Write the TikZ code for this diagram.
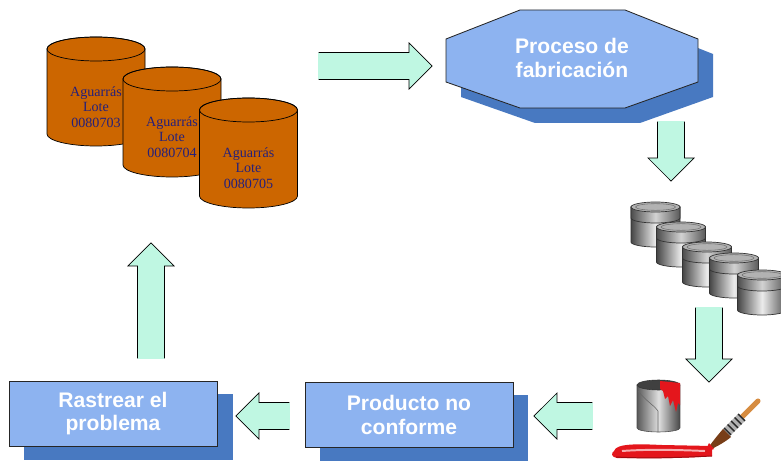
\documentclass[tikz,border=0pt]{standalone}
\usepackage{fontspec}
\setmainfont{Liberation Serif}
\newfontfamily\arial{Liberation Sans}
\usepackage{tikz}
\usetikzlibrary{shapes.arrows}

\definecolor{azulclaro}{RGB}{141,179,240}
\definecolor{azuloscuro}{RGB}{72,121,193}
\definecolor{menta}{RGB}{191,247,226}
\definecolor{naranja}{RGB}{204,102,0}
\definecolor{tinta}{RGB}{38,32,122}
\definecolor{rojo}{RGB}{228,22,28}
\definecolor{rojooscuro}{RGB}{160,10,15}
\definecolor{mango}{RGB}{214,140,64}
\definecolor{cerda}{RGB}{120,62,24}

\newcommand{\bidon}[3]{%
  \filldraw[fill=naranja, draw=black, line width=0.5pt]
    (#1-49,#2) -- (#1-49,#3) arc[start angle=180, end angle=360, x radius=49, y radius=12]
    -- (#1+49,#2) arc[start angle=0, end angle=180, x radius=49, y radius=12] -- cycle;
  \draw[line width=0.5pt] (#1,#2) ellipse[x radius=49, y radius=12];
}
\newcommand{\lata}[2]{%
  \shadedraw[left color=gray!55!black, right color=gray!65!black, middle color=gray!15, draw=black!80, line width=0.5pt]
    (#1-24.5,#2) -- (#1-24.5,#2-35) arc[start angle=180, end angle=360, x radius=24.5, y radius=5] -- (#1+24.5,#2) -- cycle;
  \shadedraw[left color=gray!60!black, right color=gray!70!black, middle color=gray!35, draw=black!80, line width=0.5pt]
    (#1-24.5,#2) -- (#1-24.5,#2-11) arc[start angle=180, end angle=360, x radius=24.5, y radius=5] -- (#1+24.5,#2) -- cycle;
  \filldraw[fill=gray!60, draw=black!80, line width=0.5pt] (#1,#2) ellipse[x radius=24.5, y radius=5];
  \draw[black!55] (#1,#2) ellipse[x radius=20, y radius=3.3];
}

\begin{document}
\begin{tikzpicture}[
  x=0.025cm, y=0.025cm,
  caja/.style={draw=black!85, line width=0.6pt, fill=azulclaro, minimum width=5.2cm, minimum height=1.625cm, inner sep=0pt},
  sombra/.style={fill=azuloscuro, minimum width=5.2cm, minimum height=1.625cm, inner sep=0pt},
  titulo/.style={align=center, text=white, font=\arial\bfseries\fontsize{15}{17}\selectfont},
  lote/.style={align=center, text=tinta, font=\fontsize{10}{11}\selectfont},
  flecha/.style={single arrow, fill=menta, draw=black, line width=0.5pt, single arrow head extend=0.235cm,
    inner xsep=0pt, inner ysep=0.33cm, outer sep=0pt, anchor=tail},
  cola/.style={menta, line width=1.2pt, shorten >=0.45pt, shorten <=0.45pt}
]
  \useasboundingbox (0,0) rectangle (781,461);
  \clip (0,0) rectangle (781,461);

  % lotes
  \bidon{96}{412}{327}
  \node[lote] (lote703) at (96,354) {Aguarrás\\Lote\\0080703};
  \bidon{172}{382}{296}
  \node[lote] (lote704) at (172,324) {Aguarrás\\Lote\\0080704};
  \bidon{248.5}{351}{265}
  \node[lote] (lote705) at (248.5,293) {Aguarrás\\Lote\\0080705};

  % proceso
  \fill[azuloscuro] (535,436) -- (640,436) -- (713,407) -- (713,364) -- (640,338) -- (535,338) -- (461,364) -- (461,407) -- cycle;
  \filldraw[fill=azulclaro, draw=black!85, line width=0.6pt]
    (520,451) -- (625,451) -- (698,422) -- (698,379) -- (625,353) -- (520,353) -- (446,379) -- (446,422) -- cycle;
  \node[titulo] (fab) at (572,403) {Proceso de\\fabricación};

  % producto terminado
  \lata{655.5}{254}
  \lata{681}{234}
  \lata{707}{214}
  \lata{734}{203}
  \lata{762}{186}

  % pintura
  \fill[rojo] (614,10) .. controls (616,18) and (640,17) .. (662,16) -- (712,15) -- (712,5)
    .. controls (680,2) and (640,3) .. (617,3) .. controls (611,4) and (611,8) .. (614,10);
  \draw[rojooscuro, line width=0.7pt] (616,4) .. controls (650,2) and (690,4) .. (712,5);
  \draw[white!65!rojo, line width=1.4pt] (622,10) .. controls (650,12) and (680,11) .. (705,10);
  \shadedraw[left color=gray!70!black, right color=gray!55!black, middle color=gray!25, draw=black!70, line width=0.4pt]
    (637,76) -- (637,33) arc[start angle=180, end angle=360, x radius=21.5, y radius=4] -- (680,76) -- cycle;
  \filldraw[fill=gray!50!black, draw=black!80, line width=0.4pt] (658.5,76) ellipse[x radius=21.5, y radius=5];
  \fill[rojo] (660,80) -- (680,78) -- (680,56) -- (678,58) -- (676,49) -- (673,61) -- (670,55) -- (668,65)
    -- (665,62) -- (663,70) -- (660,72) -- cycle;
  \draw[black!60, line width=0.4pt] (638,70) .. controls (648,58) and (655,55) .. (658,50) -- (658,29);
  \draw[mango, line width=3.6pt, line cap=round] (758,60) -- (740,42);
  \draw[gray!60, line width=7pt] (742,44) -- (726,28);
  \draw[gray!30!black, line width=7pt, dash pattern=on 1pt off 2.5pt] (742,44) -- (726,28);
  \fill[cerda] (731,24) -- (723,32) .. controls (716,24) and (710,16) .. (705,9)
    .. controls (714,13) and (724,18) .. (731,24) -- cycle;
  \fill[rojo] (705,9) -- (714,12) -- (709,18) -- cycle;

  % cuadros inferiores
  \node[sombra] (rastrearSombra) at (128.5,34) {};
  \node[caja, titulo] (rastrear) at (113,47.5) {Rastrear el\\problema};
  \node[sombra] (productoSombra) at (424,33) {};
  \node[caja, titulo] (producto) at (409,46) {Producto no\\conforme};

  % flechas
  \node[flecha, minimum height=2.825cm] (aFab) at (319,395) {};
  \node[flecha, minimum height=1.475cm, rotate=-90] (aLatas) at (671,339) {};
  \node[flecha, minimum height=1.85cm, rotate=-90] (aPintura) at (709,153) {};
  \node[flecha, minimum height=1.45cm, rotate=180] (aProducto) at (592,45) {};
  \node[flecha, minimum height=1.325cm, rotate=180] (aRastrear) at (289,45) {};
  \node[flecha, minimum height=2.875cm, rotate=90] (aLotes) at (151,103) {};
  \foreach \f in {aFab, aLatas, aPintura, aProducto, aRastrear, aLotes}
    \draw[cola] (\f.before tail) -- (\f.after tail);
\end{tikzpicture}
\end{document}
